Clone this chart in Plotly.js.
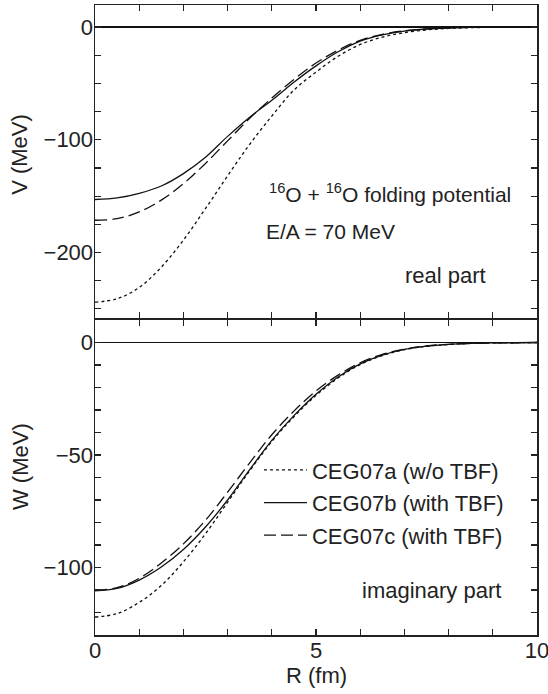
<!DOCTYPE html>
<html>
<head>
<meta charset="utf-8">
<script src="https://cdn.plot.ly/plotly-3.0.1.min.js"></script>
<style>html,body{margin:0;padding:0;background:#fff;}</style>
</head>
<body>
<div id="chart" style="width:548px;height:694px;"></div>
<script>
// Radius grid (fm)
const R = [0,0.5,1,1.5,2,2.5,3,3.5,4,4.5,5,5.5,6,6.5,7,7.5,8,8.5,9,9.5,10];

// Real part V (MeV)
const V_CEG07a = [-244,-241,-231,-213,-189,-161,-132,-104,-79,-56,-40,-26,-15.5,-9,-5,-2.6,-1.3,-0.6,-0.3,-0.1,0];
const V_CEG07b = [-153,-151.6,-147.5,-141,-130,-115.5,-97,-80,-65,-49,-34.5,-22,-12.5,-7,-3.6,-1.8,-0.9,-0.4,-0.2,-0.1,0];
const V_CEG07c = [-171.4,-170,-164,-153.5,-139,-121,-101,-81,-63,-46.5,-32,-20.5,-11.8,-6.5,-3.4,-1.7,-0.8,-0.4,-0.2,-0.1,0];

// Imaginary part W (MeV)
const W_CEG07a = [-122,-120.5,-115.5,-108,-97.5,-85,-71,-57,-44,-33,-23.5,-15.8,-9.8,-5.8,-3.2,-1.7,-0.9,-0.4,-0.2,-0.1,0];
const W_CEG07b = [-110.4,-109.3,-105.6,-99.8,-92,-82,-70,-56.5,-43.5,-32.5,-23,-15.3,-9.5,-5.6,-3.1,-1.6,-0.8,-0.4,-0.2,-0.1,0];
const W_CEG07c = [-110,-109,-104.8,-98,-89.5,-79,-66.5,-53.5,-41,-30.5,-21.5,-14.5,-9,-5.3,-3,-1.5,-0.8,-0.4,-0.2,-0.1,0];

const seriesNames = ['CEG07a (w/o TBF)','CEG07b (with TBF)','CEG07c (with TBF)'];
const dashes = ['dot','solid','12px,5px'];
const realData = [V_CEG07a, V_CEG07b, V_CEG07c];
const imagData = [W_CEG07a, W_CEG07b, W_CEG07c];

const traces = [];
realData.forEach((v,i)=>{
  traces.push({x:R, y:v, xaxis:'x', yaxis:'y', mode:'lines', name:seriesNames[i],
    legendgroup:'g'+i, showlegend:false,
    line:{color:'#111', width:1.3, dash:dashes[i], shape:'spline'}});
});
imagData.forEach((w,i)=>{
  traces.push({x:R, y:w, xaxis:'x2', yaxis:'y2', mode:'lines', name:seriesNames[i],
    legendgroup:'g'+i, showlegend:true,
    line:{color:'#111', width:1.3, dash:dashes[i], shape:'spline'}});
});

const FONT = 'Liberation Sans, Arial, sans-serif';
const FS = 22;
const txtFont = {family:FONT, size:FS, color:'#222'};
const annFont = {family:FONT, size:21, color:'#222'};
const axCommon = {
  showline:true, linecolor:'#222', linewidth:1.5, mirror:'ticks',
  ticks:'inside', ticklen:6, tickwidth:1.2, tickcolor:'#222',
  showgrid:false, tickfont:txtFont
};
const minorX = {dtick:1, ticks:'inside', ticklen:6, tickwidth:1.2, tickcolor:'#222', showgrid:false};

const layout = {
  width:548, height:694,
  margin:{l:95, r:11, t:5, b:59},
  paper_bgcolor:'#fff', plot_bgcolor:'#fff',
  font:txtFont,
  showlegend:true,
  legend:{x:0.371, y:0.295, xanchor:'left', yanchor:'top', bgcolor:'rgba(0,0,0,0)',
    font:txtFont, tracegroupgap:1, itemwidth:43},
  xaxis:Object.assign({}, axCommon, {domain:[0,1], anchor:'y', range:[0,10], dtick:5, tick0:0,
    showticklabels:false, zeroline:false, minor:minorX}),
  yaxis:Object.assign({}, axCommon, {domain:[0.5024,1], anchor:'x', range:[-258.5,19.5], dtick:100, tick0:0,
    zeroline:true, zerolinecolor:'#111', zerolinewidth:1.3, ticklabelstandoff:-4,
    minor:{dtick:25, ticks:'inside', ticklen:6, tickwidth:1.2, tickcolor:'#222', showgrid:false}}),
  xaxis2:Object.assign({}, axCommon, {domain:[0,1], anchor:'y2', range:[0,10], dtick:5, tick0:0,
    zeroline:false, ticklabelstandoff:-5, ticklabeloverflow:'allow', minor:minorX}),
  yaxis2:Object.assign({}, axCommon, {domain:[0,0.5], anchor:'x2', range:[-130,10], dtick:50, tick0:0,
    zeroline:true, zerolinecolor:'#111', zerolinewidth:1.3, ticklabelstandoff:-4,
    minor:{dtick:10, ticks:'inside', ticklen:6, tickwidth:1.2, tickcolor:'#222', showgrid:false}}),
  annotations:[
    {xref:'paper', yref:'paper', x:-0.17, y:0.7635, text:'V (MeV)', textangle:-90, showarrow:false,
      xanchor:'center', yanchor:'middle', font:txtFont},
    {xref:'paper', yref:'paper', x:-0.17, y:0.268, text:'W (MeV)', textangle:-90, showarrow:false,
      xanchor:'center', yanchor:'middle', font:txtFont},
    {xref:'paper', yref:'paper', x:0.5, y:-0.0635, text:'R (fm)', showarrow:false,
      xanchor:'center', yanchor:'middle', font:txtFont},
    {xref:'paper', yref:'paper', x:0.6674, y:0.7016, text:'<sup>16</sup>O + <sup>16</sup>O folding potential',
      showarrow:false, xanchor:'center', yanchor:'middle', font:annFont},
    {xref:'paper', yref:'paper', x:0.5317, y:0.6397, text:'E/A = 70 MeV',
      showarrow:false, xanchor:'center', yanchor:'middle', font:annFont},
    {xref:'paper', yref:'paper', x:0.889, y:0.5714, text:'real part',
      showarrow:false, xanchor:'right', yanchor:'middle', font:txtFont},
    {xref:'paper', yref:'paper', x:0.923, y:0.0714, text:'imaginary part',
      showarrow:false, xanchor:'right', yanchor:'middle', font:txtFont}
  ]
};

Plotly.newPlot('chart', traces, layout, {displayModeBar:false, staticPlot:true});
</script>
</body>
</html>
